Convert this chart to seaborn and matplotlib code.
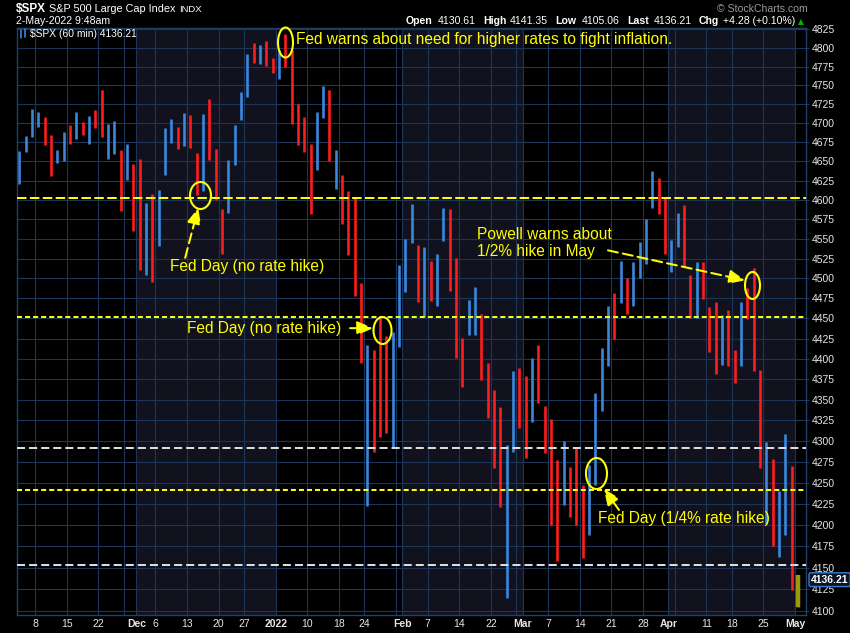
import numpy as np
import pandas as pd
import matplotlib.pyplot as plt
import matplotlib.ticker as mticker
from matplotlib.path import Path
from matplotlib.transforms import offset_copy
from matplotlib.lines import Line2D
import seaborn as sns

# S&P 500 daily ranges shown by the 60-min chart, 3-Nov-2021 .. 2-May-2022
holidays = ['2021-11-25', '2021-12-24', '2022-01-17', '2022-02-21', '2022-04-15']

highs = [
    4663.46, 4683.00, 4718.50, 4714.92, 4708.53, 4684.85, 4664.55, 4688.47, 4697.42, 4714.95,
    4701.50, 4708.80, 4717.75, 4743.83, 4699.39, 4702.87, 4664.63, 4672.95, 4646.02,
    4652.94, 4595.46, 4608.03, 4612.60, 4694.04, 4705.06, 4695.26, 4713.57, 4710.30, 4660.47,
    4712.60, 4731.99, 4666.70, 4587.90, 4651.14, 4697.67, 4740.74, 4791.49, 4807.02, 4804.06,
    4808.93, 4786.83,
    4796.64, 4818.62, 4797.70, 4725.01, 4707.95, 4673.02, 4714.13, 4748.83, 4744.13, 4665.13,
    4632.24, 4611.55, 4602.11, 4494.52, 4417.35, 4411.01, 4453.23, 4428.74, 4432.72, 4516.89,
    4550.49, 4595.31, 4542.88, 4539.66, 4521.86, 4531.32, 4590.03, 4588.92, 4526.33, 4426.22,
    4472.77, 4489.55, 4456.06, 4394.60, 4362.12, 4341.51, 4294.73, 4385.34, 4388.84,
    4378.45, 4401.48, 4416.78, 4342.12, 4327.01, 4276.94, 4299.40, 4268.28, 4291.01, 4247.57,
    4271.05, 4357.86, 4412.67, 4465.40, 4481.75, 4522.00, 4501.07, 4520.58, 4546.03, 4575.65,
    4637.30, 4627.77, 4603.07,
    4548.70, 4583.50, 4593.45, 4503.94, 4521.16, 4520.41, 4464.35, 4471.00, 4453.92, 4460.46,
    4410.31, 4471.03, 4488.29, 4512.94, 4385.83, 4299.02, 4278.14, 4240.71, 4308.45, 4269.68,
    4141.35,
]
lows = [
    4621.19, 4662.59, 4681.32, 4694.39, 4670.87, 4630.86, 4648.31, 4650.77, 4672.86, 4679.42,
    4684.41, 4672.78, 4694.22, 4682.17, 4652.66, 4659.89, 4585.43, 4625.26, 4560.00,
    4510.27, 4504.73, 4495.12, 4540.51, 4631.97, 4674.52, 4665.98, 4670.24, 4667.60, 4606.52,
    4611.22, 4651.89, 4600.22, 4531.10, 4583.16, 4645.53, 4703.96, 4733.99, 4780.04, 4778.08,
    4775.33, 4765.75,
    4758.17, 4774.27, 4699.44, 4671.26, 4662.74, 4582.24, 4638.27, 4706.71, 4650.29, 4614.75,
    4568.70, 4530.20, 4477.95, 4395.34, 4222.62, 4287.11, 4304.80, 4309.50, 4292.46, 4414.02,
    4483.53, 4544.32, 4470.39, 4451.50, 4471.47, 4465.40, 4547.00, 4484.31, 4401.41, 4364.84,
    4429.28, 4429.68, 4373.81, 4327.22, 4267.11, 4221.51, 4114.65, 4286.83, 4315.12,
    4279.54, 4322.56, 4345.56, 4284.98, 4199.85, 4157.87, 4223.10, 4209.80, 4200.49, 4161.72,
    4187.90, 4246.75, 4335.65, 4390.57, 4424.30, 4469.10, 4455.81, 4465.17, 4501.07, 4517.69,
    4589.66, 4581.32, 4530.41,
    4507.57, 4539.21, 4514.17, 4450.04, 4450.30, 4474.60, 4408.38, 4381.34, 4392.70, 4390.77,
    4370.30, 4390.63, 4448.76, 4384.47, 4267.62, 4200.82, 4175.04, 4162.90, 4188.63, 4124.28,
    4105.06,
]
closes = [
    4660.57, 4680.06, 4697.53, 4701.70, 4685.25, 4646.71, 4649.27, 4682.85, 4682.80, 4700.90,
    4688.67, 4704.54, 4697.96, 4682.94, 4690.70, 4701.46, 4594.62, 4655.27, 4567.00,
    4513.04, 4577.10, 4538.43, 4591.67, 4686.75, 4701.21, 4667.45, 4712.02, 4668.97, 4634.09,
    4709.85, 4668.67, 4620.64, 4568.02, 4649.23, 4696.56, 4725.79, 4791.19, 4786.35, 4793.06,
    4778.73, 4766.18,
    4796.56, 4793.54, 4700.58, 4696.05, 4677.03, 4670.29, 4713.07, 4726.35, 4659.03, 4662.85,
    4577.11, 4532.76, 4482.73, 4397.94, 4410.13, 4356.45, 4349.93, 4326.51, 4431.85, 4515.55,
    4546.54, 4589.38, 4477.44, 4500.53, 4483.87, 4521.54, 4587.18, 4504.08, 4418.64, 4401.67,
    4471.07, 4475.01, 4380.26, 4348.87, 4304.76, 4225.50, 4288.70, 4384.65, 4373.94,
    4306.26, 4386.54, 4363.49, 4328.87, 4201.09, 4170.70, 4277.88, 4259.52, 4204.31, 4173.11,
    4262.45, 4357.86, 4411.67, 4463.12, 4461.18, 4511.61, 4456.24, 4520.16, 4543.06, 4575.52,
    4631.60, 4602.45, 4530.41,
    4545.86, 4582.64, 4525.12, 4481.15, 4500.21, 4488.28, 4412.53, 4397.45, 4446.59, 4392.59,
    4391.69, 4462.21, 4459.45, 4393.66, 4271.78, 4296.12, 4175.20, 4183.96, 4287.50, 4131.93,
    4136.21,
]

# horizontal levels drawn on the chart
levels = [4603, 4452, 4292, 4241, 4153]
level_colors = ['#ffff00', '#ffff00', '#dcdcdc', '#ffff00', '#dcdcdc']
level_dashes = [(4.7, 1.7), (2.5, 1.5), (4.0, 2.0), (2.5, 1.5), (4.0, 2.0)]

# annotations: date, fraction of day, price, ellipse w/h (px), arrow tip/tail and text offsets (px, y down)
notes = [
    dict(date='2022-01-04', frac=0.48, price=4808, w=15, h=30, tip=None, tail=None,
         text='Fed warns about need for higher rates to fight inflation.', txt=(11, -2)),
    dict(date='2021-12-15', frac=0.0, price=4606, w=21, h=27, tip=(-1.5, 12.5), tail=(-14.5, 62.5),
         text='Fed Day (no rate hike)', txt=(-29.5, 71.5)),
    dict(date='2022-01-26', frac=0.8, price=4436, w=18, h=27, tip=(-9, -1.5), tail=(-32, -1.5),
         text='Fed Day (no rate hike)', txt=(-195, -1.5)),
    dict(date='2022-04-21', frac=0.3, price=4492, w=15, h=27, tip=(-7.5, -4.5), tail=(-144.5, -34.5),
         text='Powell warns about\n1/2% hike in May', txt=(-275.5, -42)),
    dict(date='2022-03-16', frac=0.66, price=4261, w=21, h=31, tip=(7.5, 15.5), tail=(22.5, 36.5),
         text='Fed Day (1/4% rate hike)', txt=(1.5, 45.5)),
]

y_ticks = list(range(4100, 4826, 25))

BLUE = '#3a87dc'
RED = '#ff1c1c'
YELLOW = '#ffff00'
GRID = '#1b3656'
SHADE = '#12121f'
LABEL = '#e6e6e6'

sns.set_style('dark')
plt.rcParams['font.family'] = ['Liberation Sans', 'DejaVu Sans']

days = pd.bdate_range('2021-11-03', '2022-05-02')
days = days[~days.isin(pd.to_datetime(holidays))]
n = len(days)

df = pd.DataFrame({'date': days, 'high': highs, 'low': lows, 'close': closes})
df['x'] = np.arange(n) + 0.5
df['dir'] = np.where(df['close'].diff().fillna(0) >= 0, 'up', 'down')
bars = df.melt(id_vars=['x', 'dir'], value_vars=['low', 'high'], value_name='price')

fig = plt.figure(figsize=(8.5, 6.33), dpi=100, facecolor='black')
ax = fig.add_axes([17 / 850, 1 - 615 / 633, 789 / 850, 587.3 / 633])
ax.set_facecolor('black')

# alternating month shading
month_start = df.index[df['date'].dt.month.diff().ne(0)].tolist()
edges = month_start + [n]
for k in range(len(month_start)):
    if k % 2 == 1:
        ax.axvspan(edges[k], edges[k + 1], color=SHADE, lw=0, zorder=0)

sns.lineplot(data=bars, x='x', y='price', hue='dir', units='x', estimator=None,
             palette={'up': BLUE, 'down': RED}, linewidth=1.9, legend=False,
             solid_capstyle='butt', ax=ax, zorder=2)

# latest bar highlighted
last = bars[bars['x'] == df['x'].iloc[-1]]
sns.lineplot(data=last, x='x', y='price', units='x', estimator=None, color='#9a9a0c',
             linewidth=3.2, solid_capstyle='butt', ax=ax, zorder=3)

for lev, c, d in zip(levels, level_colors, level_dashes):
    ax.axhline(lev, color=c, lw=1.45, dashes=d, zorder=4)

ax.set_yscale('log')
ax.set_ylim(4095.5, 4827.2)
ax.set_xlim(0.15, 124.75)
ax.yaxis.set_major_locator(mticker.FixedLocator(y_ticks))
ax.yaxis.set_minor_locator(mticker.NullLocator())
ax.yaxis.set_major_formatter(mticker.FuncFormatter(lambda v, p: f'{v:.0f}'))
ax.yaxis.tick_right()
ax.tick_params(axis='y', which='both', length=2.5, width=0.8, color=GRID, pad=1.5,
               labelsize=7.5, labelcolor=LABEL)

# week and month ticks
iso_week = df['date'].dt.isocalendar().week.astype(int)
week_start = df.index[iso_week.diff().ne(0)].tolist()[1:]
months = month_start[1:]
ticks = sorted(set(week_start) | set(months))
labels = []
for t in ticks:
    d = df['date'][t]
    if t in months:
        labels.append('2022' if d.month == 1 else d.strftime('%b'))
    elif min(abs(t - m) for m in months) <= 2:
        labels.append('')
    else:
        labels.append(str(d.day))
ax.set_xticks(ticks, labels)
ax.tick_params(axis='x', length=0, pad=3, labelsize=7.5, labelcolor=LABEL)
for t, lab in zip(ticks, ax.get_xticklabels()):
    if t in months:
        lab.set_fontweight('bold')

ax.grid(True, color=GRID, lw=0.8)
ax.set_axisbelow(True)
for s in ax.spines.values():
    s.set_visible(True)
    s.set_color('#1f4268')
    s.set_linewidth(1.0)
ax.set_xlabel('')
ax.set_ylabel('')


def ellipse_marker(w, h):
    t = np.linspace(0, 2 * np.pi, 64)
    return Path(np.column_stack([w / 2 * np.cos(t), h / 2 * np.sin(t)]), closed=True)


PX = 0.72  # points per pixel
date_pos = {d: i for i, d in enumerate(df['date'].dt.strftime('%Y-%m-%d'))}
for nt in notes:
    cx = date_pos[nt['date']] + nt['frac']
    cy = nt['price']
    ax.plot([cx], [cy], marker=ellipse_marker(nt['w'], nt['h']), ms=max(nt['w'], nt['h']) * PX,
            mfc='none', mec=YELLOW, mew=1.5, zorder=6, clip_on=False)
    tx, ty = nt['txt']
    ax.text(cx, cy, nt['text'], color=YELLOW, fontsize=11.2, ha='left', va='center',
            linespacing=1.2, zorder=6,
            transform=offset_copy(ax.transData, fig, x=tx * PX, y=-ty * PX, units='points'))
    if nt['tip'] is not None:
        tip_tr = offset_copy(ax.transData, fig, x=nt['tip'][0] * PX, y=-nt['tip'][1] * PX, units='points')
        tail_tr = offset_copy(ax.transData, fig, x=nt['tail'][0] * PX, y=-nt['tail'][1] * PX, units='points')
        ax.annotate('', xy=(cx, cy), xycoords=tip_tr, xytext=(cx, cy), textcoords=tail_tr,
                    arrowprops=dict(arrowstyle='-|>,head_length=0.8,head_width=0.35', color=YELLOW,
                                    lw=1.45, linestyle=(0, (5, 2.5)), shrinkA=0, shrinkB=0,
                                    mutation_scale=12), zorder=6)

# last price tag on the right axis
ax.annotate(f'{closes[-1]:.2f}', xy=(1.0, closes[-1]), xycoords=('axes fraction', 'data'),
            xytext=(3.5, 0), textcoords='offset points', ha='left', va='center',
            fontsize=7.5, fontweight='bold', color='white', zorder=10, annotation_clip=False,
            bbox=dict(boxstyle='round,pad=0.18', fc='#0b1526', ec='#3d7cc9', lw=1.0))


def ftext(x, y, s, **kw):
    fig.text(x / 850, 1 - y / 633, s, va='center', **kw)


ftext(16, 9, '$SPX', color='white', fontsize=8.5, fontweight='bold')
ftext(49, 9, 'S&P 500 Large Cap Index', color='white', fontsize=7.8)
ftext(179, 9, 'INDX', color='white', fontsize=6.8)
ftext(16, 21.5, '2-May-2022 9:48am', color='white', fontsize=7.6)
ftext(717, 9, '\u00a9 StockCharts.com', color='#9a9a9a', fontsize=7.6)
header = [(406, 'Open', True), (438, '4130.61', False), (483, 'High', True), (510, '4141.35', False),
          (555, 'Low', True), (582, '4105.06', False), (627, 'Last', True), (654, '4136.21', False),
          (699, 'Chg', True), (723, '+4.28 (+0.10%)', False)]
for hx, s, b in header:
    ftext(hx, 21.5, s, color='white', fontsize=7.6, fontweight='bold' if b else 'normal')
ftext(798, 22, '\u25b2', color='#00b400', fontsize=5.5, family='DejaVu Sans')

ftext(30, 34, '$SPX (60 min) 4136.21', color='white', fontsize=7.4)
fig.add_artist(Line2D([20.5 / 850, 20.5 / 850], [1 - 30 / 633, 1 - 38 / 633], color=BLUE, lw=1.2))
fig.add_artist(Line2D([24.5 / 850, 24.5 / 850], [1 - 29 / 633, 1 - 37 / 633], color=BLUE, lw=1.2))

fig.savefig('out.png', dpi=100, facecolor='black')
